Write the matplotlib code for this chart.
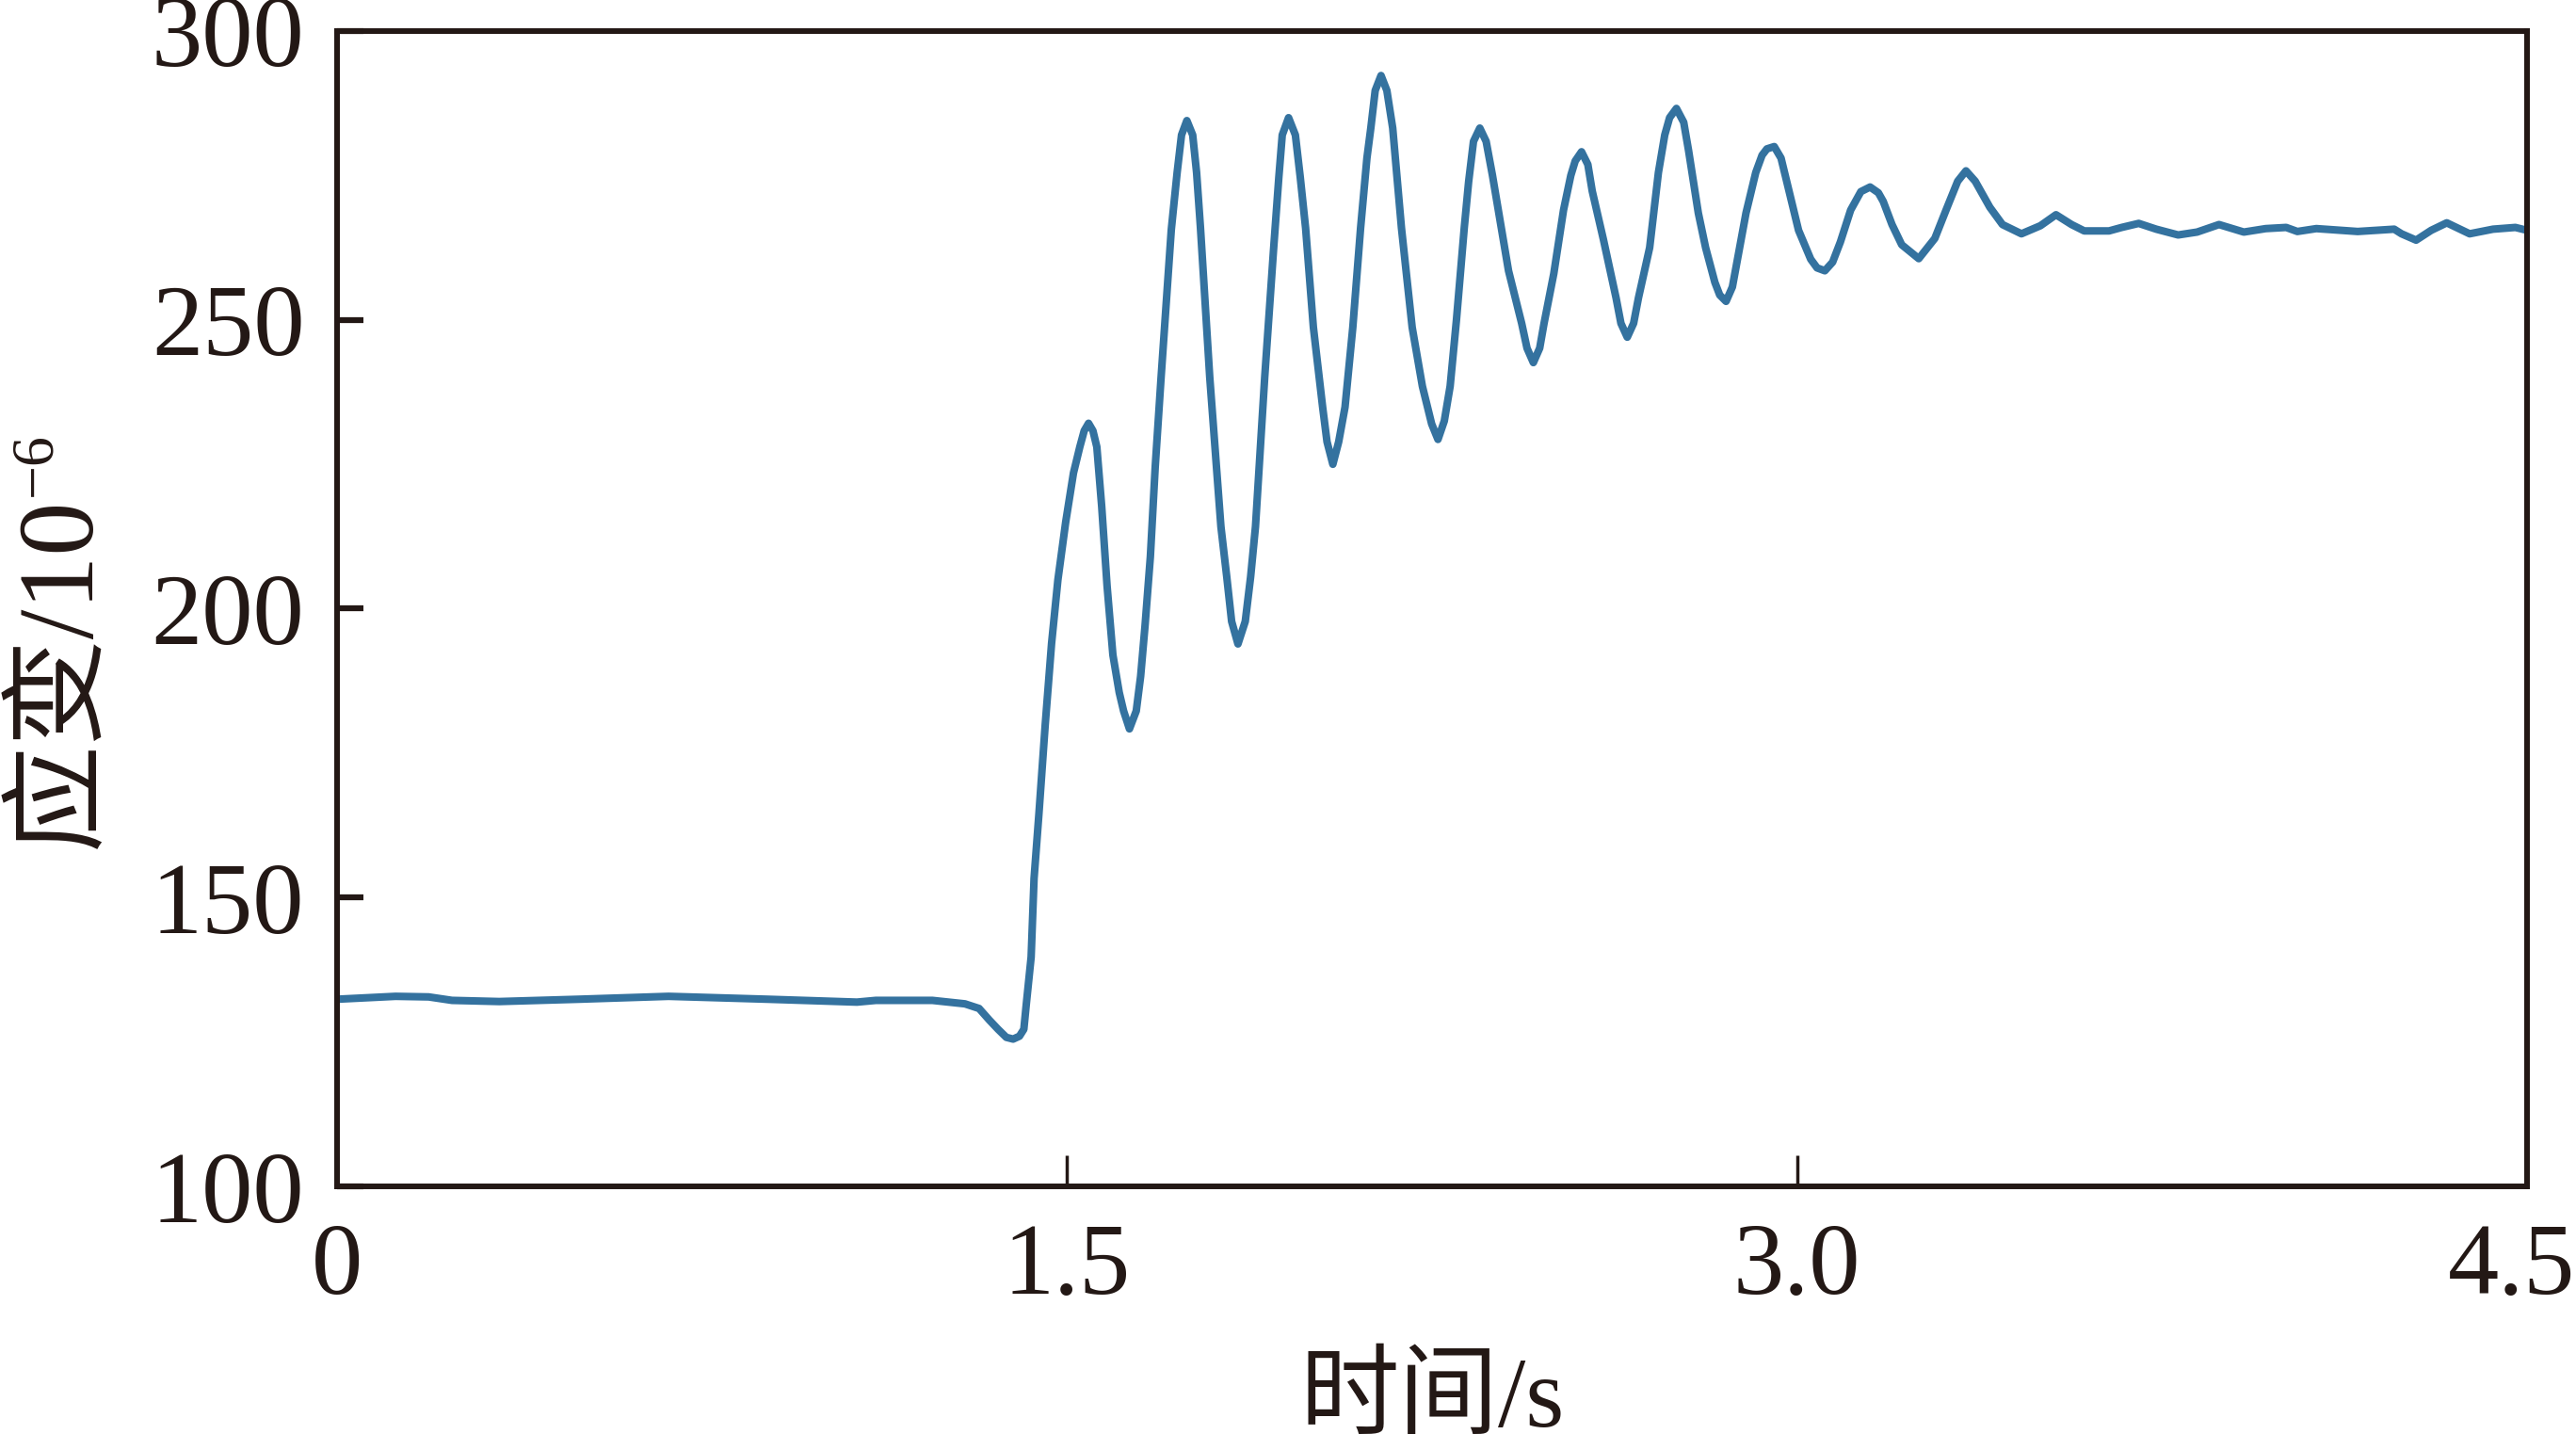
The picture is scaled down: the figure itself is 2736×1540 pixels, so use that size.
import matplotlib
matplotlib.use('Agg')
import matplotlib.pyplot as plt
from matplotlib.transforms import ScaledTranslation

plt.rcParams['font.family'] = ['Liberation Serif', 'Noto Sans CJK SC']
plt.rcParams['axes.unicode_minus'] = False

# ---- data ----
time_s = [0.000, 0.120, 0.188, 0.236, 0.333, 0.497, 0.681, 0.884, 1.068, 1.107,
          1.223, 1.290, 1.319, 1.340, 1.358, 1.375, 1.389, 1.402, 1.411, 1.416,
          1.426, 1.432, 1.442, 1.455, 1.468, 1.481, 1.497, 1.513, 1.526, 1.535,
          1.544, 1.553, 1.561, 1.571, 1.582, 1.594, 1.607, 1.616, 1.628, 1.642,
          1.651, 1.660, 1.671, 1.681, 1.693, 1.714, 1.726, 1.735, 1.746, 1.758,
          1.766, 1.774, 1.793, 1.816, 1.828, 1.838, 1.851, 1.866, 1.877, 1.887,
          1.906, 1.924, 1.935, 1.942, 1.955, 1.969, 1.979, 1.990, 2.006, 2.025,
          2.034, 2.046, 2.058, 2.071, 2.087, 2.103, 2.116, 2.124, 2.133, 2.145,
          2.157, 2.169, 2.187, 2.209, 2.230, 2.249, 2.262, 2.275, 2.287, 2.300,
          2.316, 2.325, 2.335, 2.348, 2.361, 2.374, 2.388, 2.407, 2.434, 2.445,
          2.458, 2.471, 2.480, 2.500, 2.520, 2.535, 2.544, 2.557, 2.570, 2.579,
          2.602, 2.628, 2.638, 2.651, 2.664, 2.674, 2.697, 2.715, 2.728, 2.738,
          2.752, 2.767, 2.777, 2.797, 2.812, 2.831, 2.841, 2.854, 2.867, 2.877,
          2.895, 2.915, 2.928, 2.938, 2.953, 2.967, 2.980, 3.003, 3.028, 3.041,
          3.057, 3.073, 3.089, 3.110, 3.131, 3.150, 3.167, 3.177, 3.195, 3.215,
          3.250, 3.283, 3.306, 3.330, 3.347, 3.366, 3.396, 3.422, 3.461, 3.500,
          3.532, 3.564, 3.590, 3.641, 3.667, 3.702, 3.738, 3.783, 3.822, 3.867,
          3.918, 3.963, 4.005, 4.028, 4.067, 4.152, 4.227, 4.242, 4.272, 4.303,
          4.335, 4.382, 4.430, 4.476, 4.500]
strain = [132.4, 132.9, 132.8, 132.2, 132.0, 132.4, 132.9, 132.4, 131.9, 132.2,
          132.2, 131.6, 130.8, 128.8, 127.2, 125.8, 125.5, 126.0, 127.2, 131.5,
          139.7, 153.3, 164.5, 180.0, 194.0, 205.0, 215.0, 223.5, 228.0, 230.8,
          232.1, 230.8, 228.0, 217.7, 204.0, 192.0, 185.5, 182.3, 179.2, 182.3,
          188.3, 197.0, 209.0, 224.6, 240.0, 265.6, 275.5, 282.0, 284.5, 282.0,
          275.5, 265.9, 240.1, 214.2, 205.5, 197.8, 193.9, 197.8, 205.5, 214.2,
          240.1, 262.0, 274.7, 282.0, 285.0, 282.0, 274.7, 265.9, 248.7, 234.9,
          228.9, 225.0, 228.9, 234.9, 248.7, 265.9, 278.0, 283.2, 289.7, 292.3,
          289.7, 283.2, 265.9, 248.7, 238.5, 232.0, 229.3, 232.5, 238.5, 250.0,
          265.9, 273.9, 280.9, 283.2, 280.9, 275.0, 268.0, 258.5, 249.4, 245.1,
          242.6, 245.1, 249.4, 258.0, 269.0, 275.0, 277.5, 279.1, 276.9, 272.3,
          263.9, 253.8, 249.4, 247.0, 249.4, 253.8, 262.5, 275.5, 282.0, 285.0,
          286.6, 284.2, 279.3, 268.5, 262.5, 256.5, 254.3, 253.2, 255.7, 260.3,
          268.5, 275.5, 278.5, 279.6, 280.0, 278.0, 273.5, 265.5, 260.5, 259.0,
          258.5, 260.0, 263.5, 269.0, 272.2, 273.0, 272.0, 270.5, 266.5, 263.0,
          260.6, 264.1, 269.0, 274.0, 275.8, 274.0, 269.5, 266.5, 264.9, 266.3,
          268.2, 266.5, 265.4, 265.4, 266.0, 266.7, 265.7, 264.7, 265.2, 266.5,
          265.2, 265.8, 266.0, 265.3, 265.8, 265.3, 265.7, 264.9, 263.8, 265.5,
          266.8, 264.9, 265.7, 266.0, 265.5]

x_ticks = [0, 1.5, 3.0, 4.5]
x_tick_labels = ['0', '1.5', '3.0', '4.5']
y_ticks = [100, 150, 200, 250, 300]
y_tick_labels = ['100', '150', '200', '250', '300']
x_label = '时间/s'
y_label = '应变/10'
y_label_sup = '\u22126'

# ---- styling ----
LINE = '#34729f'
INK = '#231815'

fig = plt.figure(figsize=(27.36, 15.40), dpi=100)
ax = fig.add_axes([0.1309, 0.1818, 0.8501, 0.7968])

ax.plot(time_s, strain, color=LINE, lw=5.8, solid_joinstyle='round')
ax.set_xlim(0, 4.5)
ax.set_ylim(100, 300)

for sp in ax.spines.values():
    sp.set_linewidth(4.3)
    sp.set_color(INK)

ax.set_xticks(x_ticks)
ax.set_xticklabels(x_tick_labels)
ax.set_yticks(y_ticks)
ax.set_yticklabels(y_tick_labels)
ax.tick_params(axis='y', direction='in', length=20, width=4.5, pad=25,
               labelsize=78, color=INK, labelcolor=INK)
ax.tick_params(axis='x', direction='in', length=24, width=2.5, pad=28,
               labelsize=78, color=INK, labelcolor=INK)

# last x tick label sits slightly left of its tick, as in the reference
last = ax.get_xticklabels()[-1]
last.set_transform(last.get_transform() + ScaledTranslation(-12 / 72, 0, fig.dpi_scale_trans))

ax.set_xlabel(x_label, fontsize=76, color=INK)
ax.xaxis.label.set_va('center')
ax.xaxis.set_label_coords(0.5, -0.187)

ylab = ax.set_ylabel(y_label, fontsize=82, color=INK)
ax.yaxis.label.set_va('center')
ax.yaxis.set_label_coords(-0.1260, 0.445)

ax.annotate(y_label_sup, xy=(0.52, 1.0), xycoords=ylab, ha='right', va='bottom',
            rotation=90, fontsize=46, color=INK)

fig.savefig('out.png', dpi=100)
